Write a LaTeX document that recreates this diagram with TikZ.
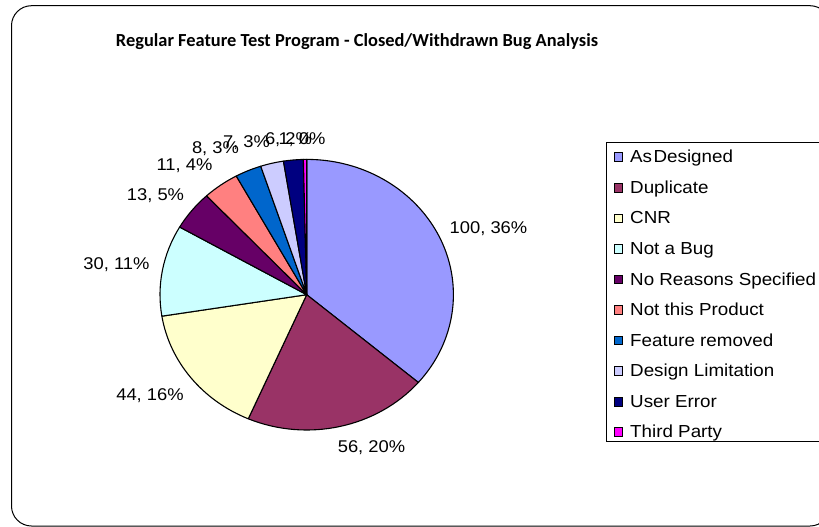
\documentclass[tikz,border=0pt]{standalone}
\usepackage{fontspec}
\setmainfont[FakeStretch=1.08]{Liberation Sans}
\newfontfamily\titlefont{Carlito}
\definecolor{asd}{HTML}{9999FF}
\definecolor{dup}{HTML}{993366}
\definecolor{cnr}{HTML}{FFFFCC}
\definecolor{nab}{HTML}{CCFFFF}
\definecolor{nrs}{HTML}{660066}
\definecolor{ntp}{HTML}{FF8080}
\definecolor{frm}{HTML}{0066CC}
\definecolor{dlm}{HTML}{CCCCFF}
\definecolor{uer}{HTML}{000080}
\definecolor{tpy}{HTML}{FF00FF}
\newcommand\pieslice[3]{\filldraw[slice,fill=#3] (C) -- ++(#1:146.7 and 135.3) arc[start angle=#1,end angle=#2,x radius=146.7,y radius=135.3] -- cycle;}
\begin{document}
\begin{tikzpicture}[x=1pt,y=-1pt,
  slice/.style={draw=black,line width=1.1pt,line join=round},
  lbl/.style={font=\fontsize{17}{20}\selectfont,anchor=base,inner sep=0pt,text=black},
  legtxt/.style={font=\fontsize{17.4}{20}\selectfont,anchor=base west,inner sep=0pt},
  legsq/.style={draw=black,line width=0.9pt,minimum size=8.6pt,inner sep=0pt}]
\path[use as bounding box] (0,0) rectangle (819,527);
\clip (0,0) rectangle (819,527);
\fill[white] (0,0) rectangle (819,527);
\draw[line width=1pt,rounded corners=20pt] (11.5,5.7) rectangle (830,526);
\node[font=\titlefont\bfseries\fontsize{18.4}{22}\selectfont,anchor=base,inner sep=0pt] (title) at (357,46.7) {Regular Feature Test Program - Closed/Withdrawn Bug Analysis};
\coordinate (C) at (306.7,294.7);
\pieslice{-90}{40.435}{asd}
\pieslice{40.435}{113.478}{dup}
\pieslice{113.478}{170.870}{cnr}
\pieslice{170.870}{210.0}{nab}
\pieslice{210.0}{226.957}{nrs}
\pieslice{226.957}{241.304}{ntp}
\pieslice{241.304}{251.739}{frm}
\pieslice{251.739}{260.870}{dlm}
\pieslice{260.870}{268.696}{uer}
\pieslice{268.696}{270}{tpy}
\node[lbl] (l1) at (488.5,233) {100, 36\%};
\node[lbl] (l2) at (371.5,452) {56, 20\%};
\node[lbl] (l3) at (150,400) {44, 16\%};
\node[lbl] (l4) at (116.5,269.5) {30, 11\%};
\node[lbl] (l5) at (155.5,200) {13, 5\%};
\node[lbl] (l6) at (184.5,170) {11, 4\%};
\node[lbl] (l7) at (215.5,153) {8, 3\%};
\node[lbl] (l8) at (246.5,147.5) {7, 3\%};
\node[lbl] (l9) at (288.5,144) {6, 2\%};
\node[lbl] (l10) at (302,144) {1, 0\%};
\draw[line width=0.9pt] (606,142) rectangle (830,441);
\foreach \c/\t [count=\i from 0] in {asd/As\kern1.5pt Designed,dup/Duplicate,cnr/CNR,nab/Not a Bug,nrs/No Reasons Specified,ntp/Not this Product,frm/Feature removed,dlm/Design Limitation,uer/User Error,tpy/Third Party}{
  \node[legsq,fill=\c] (sq\i) at (618.3,{157.2+30.56*\i}) {};
  \node[legtxt] (lt\i) at (630,{157.2+30.56*\i+5.6}) {\t};
}
\end{tikzpicture}
\end{document}
